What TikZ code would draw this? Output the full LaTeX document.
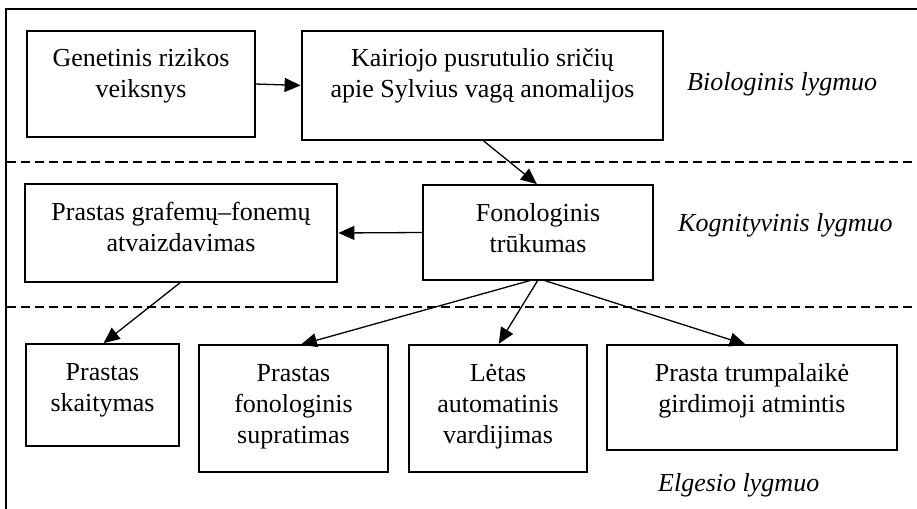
\documentclass[tikz,border=0pt]{standalone}
\usepackage{fontspec}
\setmainfont{Liberation Serif}
\usetikzlibrary{arrows.meta}

% box text: fixed width and height, first baseline 36pt below the top
\newcommand\boxtxt[3]{\parbox[t][#2][t]{#1}{\centering\rule{0pt}{36pt}#3}}

\tikzset{
  blk/.style={draw, line width=2.9pt, inner sep=0pt, outer sep=0pt, anchor=north west,
              font=\fontsize{26}{31}\selectfont},
  conn/.style={line width=1.3pt, -{Triangle[length=16pt,width=14pt]}, shorten >=1.4pt},
  levelsep/.style={line width=1.7pt, dash pattern=on 8.5pt off 5.5pt},
  frame/.style={line width=2pt},
  lvl/.style={anchor=base west, inner sep=0pt, font=\fontsize{26}{31}\selectfont\itshape}
}

\begin{document}
\begin{tikzpicture}[x=1pt,y=-1pt]
  \useasboundingbox (0,0) rectangle (917,508);
  \fill[white] (0,0) rectangle (917,508);
  \begin{scope}
    \clip (0,0) rectangle (917,508);
    % outer frame (right and lower sides lie off the page)
    \draw[frame] (6,530) -- (6,9) -- (940,9);
    % level separators
    \coordinate (s1a) at (7,162);
    \coordinate (s1b) at (917,162);
    \coordinate (s2a) at (7,307);
    \coordinate (s2b) at (917,307);
    \draw[levelsep] (s1a) -- (s1b);
    \draw[levelsep] (s2a) -- (s2b);
  \end{scope}

  % biological level
  \node[blk] (gen) at (27,31) {\boxtxt{228pt}{106pt}{Genetinis rizikos\\veiksnys}};
  \node[blk] (kai) at (302,31) {\boxtxt{361pt}{109pt}{Kairiojo pusrutulio sričių\\apie Sylvius vagą anomalijos}};
  \node[lvl] (bio) at (687,91) {Biologinis lygmuo};

  % cognitive level
  \node[blk] (gra) at (25,184) {\boxtxt{312pt}{98pt}{Prastas grafemų–fonemų\\atvaizdavimas}};
  \node[blk] (fon) at (423,185) {\boxtxt{230pt}{95pt}{Fonologinis\\trūkumas}};
  \node[lvl] (kog) at (678,231) {Kognityvinis lygmuo};

  % behavioural level
  \node[blk] (ska) at (26,344) {\boxtxt{153pt}{102pt}{Prastas\\skaitymas}};
  \node[blk] (sup) at (199,345) {\boxtxt{189pt}{127pt}{Prastas\\fonologinis\\supratimas}};
  \node[blk] (var) at (409,345) {\boxtxt{178pt}{127pt}{Lėtas\\automatinis\\vardijimas}};
  \node[blk] (atm) at (607,345) {\boxtxt{290pt}{105pt}{Prasta trumpalaikė\\girdimoji atmintis}};
  \node[lvl] (elg) at (658,491) {Elgesio lygmuo};

  % connectors
  \draw[conn] (gen.east) -- (kai.west);
  \draw[conn] (kai.south) -- (fon.north);
  \draw[conn] (fon.west) -- (gra.east);
  \draw[conn] (gra.south) -- (ska.north);
  \draw[conn] ([xshift=-6pt]fon.south) -- ([xshift=6pt]sup.north);
  \draw[conn] (fon.south) -- (var.north);
  \draw[conn] ([xshift=5pt]fon.south) -- ([xshift=-5pt]atm.north);
\end{tikzpicture}
\end{document}
